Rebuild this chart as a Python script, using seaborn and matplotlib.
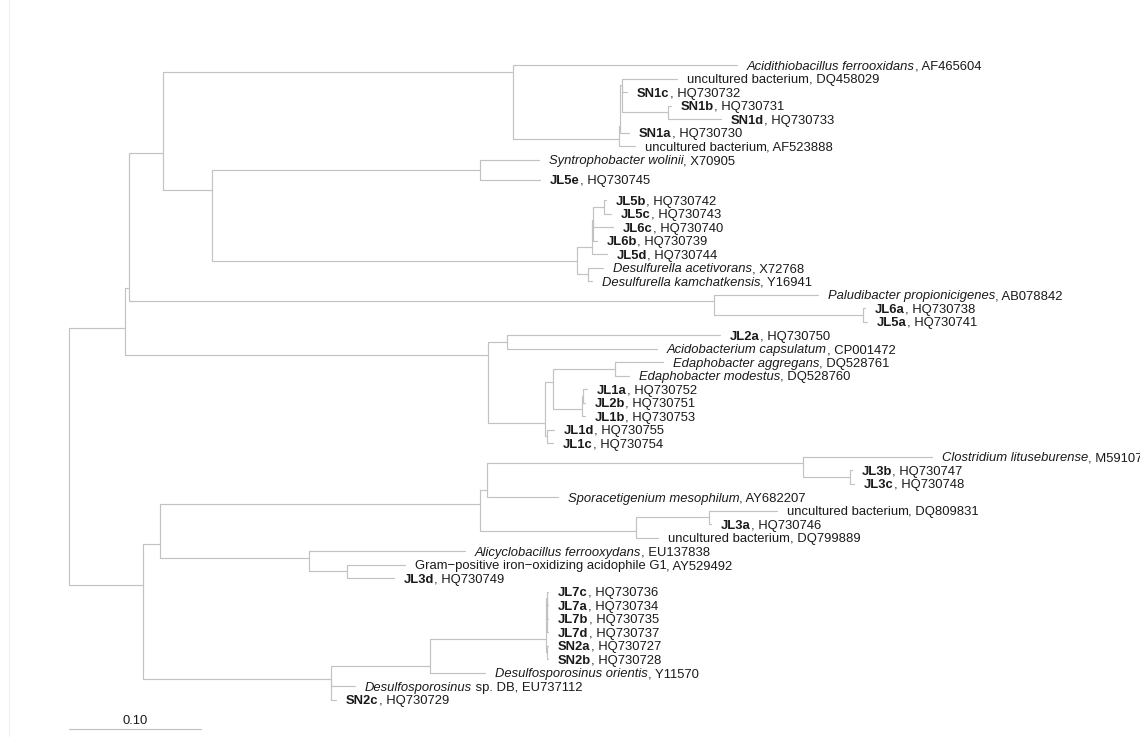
import numpy as np
import pandas as pd
import matplotlib
matplotlib.use("Agg")
import matplotlib.pyplot as plt
from matplotlib.font_manager import FontProperties, findfont, get_font
from matplotlib.transforms import offset_copy
import seaborn as sns

# ---- leaves, top to bottom -------------------------------------------------
tip_acc = ["AF465604", "DQ458029", "HQ730732", "HQ730731", "HQ730733", "HQ730730",
           "AF523888", "X70905", "HQ730745", "HQ730742", "HQ730743", "HQ730740",
           "HQ730739", "HQ730744", "X72768", "Y16941", "AB078842", "HQ730738",
           "HQ730741", "HQ730750", "CP001472", "DQ528761", "DQ528760", "HQ730752",
           "HQ730751", "HQ730753", "HQ730755", "HQ730754", "M59107", "HQ730747",
           "HQ730748", "AY682207", "DQ809831", "HQ730746", "DQ799889", "EU137838",
           "AY529492", "HQ730749", "HQ730736", "HQ730734", "HQ730735", "HQ730737",
           "HQ730727", "HQ730728", "Y11570", "EU737112", "HQ730729"]

tip_taxon = ["Acidithiobacillus ferrooxidans", "uncultured bacterium", "SN1c", "SN1b",
             "SN1d", "SN1a", "uncultured bacterium", "Syntrophobacter wolinii", "JL5e",
             "JL5b", "JL5c", "JL6c", "JL6b", "JL5d", "Desulfurella acetivorans",
             "Desulfurella kamchatkensis", "Paludibacter propionicigenes", "JL6a", "JL5a",
             "JL2a", "Acidobacterium capsulatum", "Edaphobacter aggregans",
             "Edaphobacter modestus", "JL1a", "JL2b", "JL1b", "JL1d", "JL1c",
             "Clostridium lituseburense", "JL3b", "JL3c", "Sporacetigenium mesophilum",
             "uncultured bacterium", "JL3a", "uncultured bacterium",
             "Alicyclobacillus ferrooxydans", "Gram\u2212positive iron\u2212oxidizing acidophile G1",
             "JL3d", "JL7c", "JL7a", "JL7b", "JL7d", "SN2a", "SN2b",
             "Desulfosporosinus orientis", "Desulfosporosinus", "SN2c"]

# b = clone from this study (bold), i = described species (italic), r = plain
tip_style = ["i", "r", "b", "b", "b", "b", "r", "i", "b", "b", "b", "b", "b", "b", "i",
             "i", "i", "b", "b", "b", "i", "i", "i", "b", "b", "b", "b", "b", "i", "b",
             "b", "i", "r", "b", "r", "i", "r", "b", "b", "b", "b", "b", "b", "b", "i",
             "i", "b"]

tip_extra = {"EU737112": " sp. DB"}

tip_parent = ["D", "F", "F", "G", "G", "Fp", "E", "J", "J", "M", "M", "Lq2", "Lq2", "Lq",
              "N", "N", "O", "P", "P", "Rr", "Rr", "U", "U", "V2", "V2", "V", "W", "W",
              "AB", "AC", "AC", "AA", "AE", "AE", "AD", "AF", "AG", "AG", "AJ1", "AJ1",
              "AJ1", "AJ1", "AJ2", "AJ2", "AI", "AH", "AH"]

tip_length = [0.1697, 0.0417, 0.0038, 0.0023, 0.0402, 0.0068, 0.0121, 0.0447, 0.0455,
              0.0015, 0.0053, 0.0152, 0.0030, 0.0114, 0.0114, 0.0030, 0.0788, 0.0015,
              0.0030, 0.1614, 0.1136, 0.0364, 0.0106, 0.0030, 0.0015, 0.0023, 0.0053,
              0.0045, 0.0977, 0.0015, 0.0030, 0.0538, 0.0515, 0.0015, 0.0167, 0.1182,
              0.0439, 0.0356, 0.0008, 0.0008, 0.0008, 0.0008, 0.0008, 0.0008, 0.0417,
              0.0182, 0.0038]

# ---- internal nodes --------------------------------------------------------
node_id = ["A", "B", "C", "D", "E", "Fp", "F", "G", "I", "J", "K", "Lq", "Lq2", "M",
           "N", "O", "P", "Q", "Rr", "S", "T", "U", "V", "V2", "W", "X", "Y", "Z",
           "AA", "AB", "AC", "AD", "AE", "AF", "AG", "AH", "AI", "AJ", "AJ1", "AJ2"]
node_parent = ["root", "A", "B", "C", "D", "E", "Fp", "F", "C", "I", "I", "K", "Lq",
               "Lq2", "K", "B", "O", "A", "Q", "Q", "S", "T", "T", "V", "S", "root",
               "X", "Y", "Z", "AA", "AB", "Z", "AD", "Y", "AF", "X", "AH", "AI", "AJ",
               "AJ"]
node_length = [0.0424, 0.0030, 0.0258, 0.2652, 0.0803, 0.0008, 0.0015, 0.0348, 0.0371,
               0.2030, 0.2765, 0.0114, 0.0008, 0.0083, 0.0083, 0.4432, 0.1129, 0.2750,
               0.0144, 0.0432, 0.0061, 0.0470, 0.0220, 0.0008, 0.0015, 0.0561, 0.0129,
               0.2424, 0.0053, 0.2394, 0.0356, 0.1182, 0.0553, 0.1129, 0.0288, 0.1424,
               0.0750, 0.0879, 0.0008, 0.0008]

scale_value = 0.10

# ---- layout ----------------------------------------------------------------
parent = dict(zip(node_id, node_parent))
parent.update(zip(tip_acc, tip_parent))
blen = dict(zip(node_id, node_length))
blen.update(zip(tip_acc, tip_length))

depth = {"root": 0.0}
def get_depth(n):
    if n not in depth:
        depth[n] = get_depth(parent[n]) + blen[n]
    return depth[n]
for n in list(parent):
    get_depth(n)

# leaf rows; a little extra room is left around JL5e
rows = np.arange(len(tip_acc), dtype=float)
rows[8] += 0.5
rows[9:] += 1.0
ypos = dict(zip(tip_acc, rows))

children = {}
for n, p in parent.items():
    children.setdefault(p, []).append(n)

span = {}
def get_span(n):
    if n not in span:
        if n in children:
            s = [get_span(c) for c in children[n]]
            span[n] = (min(a for a, _ in s), max(b for _, b in s))
        else:
            span[n] = (ypos[n], ypos[n])
    return span[n]

# each internal node sits halfway across the gap that separates its
# first (upper) descendant clade from the next one
def get_y(n):
    if n not in ypos:
        kids = sorted(children[n], key=lambda c: get_span(c)[0])
        for c in kids:
            get_y(c)
        ypos[n] = (get_span(kids[0])[1] + get_span(kids[1])[0]) / 2.0
    return ypos[n]
get_y("root")

# one elbow per branch: along the parent's vertical, then across
seg = []
for k, n in enumerate(parent):
    p = parent[n]
    for (x, y) in [(depth[p], ypos[p]), (depth[p], ypos[n]), (depth[n], ypos[n])]:
        seg.append({"branch": k, "x": x, "y": y})
branches = pd.DataFrame(seg)

# ---- figure ----------------------------------------------------------------
sns.set_theme(style="white")
plt.rcParams["font.family"] = ["Liberation Sans", "DejaVu Sans"]

W, H = 1140, 737
DPI = 100
fig = plt.figure(figsize=(W / DPI, H / DPI), dpi=DPI)
ax = fig.add_axes([0, 0, 1, 1])

px_per_unit = 1320.0
root_px = 69.0
row_px, top_px = 13.5, 65.0
ax.set_xlim(-root_px / px_per_unit, (W - root_px) / px_per_unit)
ax.set_ylim((H - top_px) / row_px, -top_px / row_px)
ax.axis("off")

# faint page edge on the left
fig.add_artist(plt.Line2D([8.5 / W, 8.5 / W], [0, 1], transform=fig.transFigure,
                          color="#f1f1f1", linewidth=0.8))

line_col = "#c2c2c2"
sns.lineplot(data=branches, x="x", y="y", units="branch", estimator=None, sort=False,
             color=line_col, linewidth=0.85, ax=ax, legend=False)

fs = 9.4
txt_col = "#1a1a1a"
off = 10.0 / px_per_unit
base_shift = 0.35  # baseline sits a little below the branch line

fp_reg = FontProperties(family="Liberation Sans", size=fs)
fp_bold = FontProperties(family="Liberation Sans", weight="bold", size=fs)
fp_ital = FontProperties(family="Liberation Sans", style="italic", size=fs)
fp_for = {"r": fp_reg, "b": fp_bold, "i": fp_ital}

def advance_px(s, fp):
    font = get_font(findfont(fp))
    font.set_size(fs, DPI)
    return sum(font.load_char(ord(c)).linearHoriAdvance for c in s) / 65536.0

for acc, taxon, sty in zip(tip_acc, tip_taxon, tip_style):
    x0 = depth[acc] + off
    yb = ypos[acc] + base_shift
    ax.text(x0, yb, taxon, ha="left", va="baseline", fontproperties=fp_for[sty],
            color=txt_col)
    rest = tip_extra.get(acc, "") + ", " + acc
    tr = offset_copy(ax.transData, fig=fig, x=advance_px(taxon, fp_for[sty]), y=0,
                     units="dots")
    ax.text(x0, yb, rest, ha="left", va="baseline", fontproperties=fp_reg,
            color=txt_col, transform=tr)

# scale bar
bar_row = (728.5 - top_px) / row_px
bar = pd.DataFrame({"x": [0.0, scale_value], "y": [bar_row, bar_row]})
sns.lineplot(data=bar, x="x", y="y", color=line_col, linewidth=0.85, ax=ax,
             estimator=None, sort=False, legend=False)
ax.text(scale_value / 2, (724.5 - top_px) / row_px, f"{scale_value:.2f}", ha="center",
        va="baseline", fontproperties=fp_reg, color=txt_col)

fig.savefig("out.png", dpi=DPI, facecolor="white")
